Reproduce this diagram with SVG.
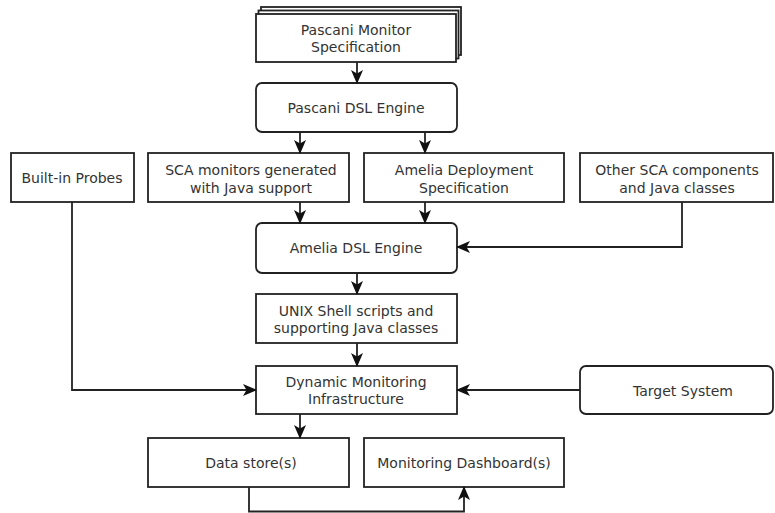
<svg xmlns="http://www.w3.org/2000/svg" width="775" height="513" viewBox="0 0 775 513">
  <style>
    .box { fill: #fff; stroke: #222; stroke-width: 1.8; }
    .lbl { font-family: "DejaVu Sans", sans-serif; font-size: 14px; fill: #333; text-anchor: middle; }
    .edge { fill: none; stroke: #222; stroke-width: 1.8; }
  </style>
  <defs>
    <marker id="arrow" viewBox="0 0 14 12" refX="13" refY="6" markerWidth="14" markerHeight="12" markerUnits="userSpaceOnUse" orient="auto">
      <path d="M0,0 L14,6 L0,12 L3.5,6 Z" fill="#111"/>
    </marker>
  </defs>

  <rect width="775" height="513" fill="#fff"/>

  <g id="pascani-spec">
    <rect class="box" x="261" y="7" width="200" height="48"/>
    <rect class="box" x="258.5" y="10.5" width="200" height="48"/>
    <rect class="box" x="256" y="14" width="200" height="48"/>
    <text class="lbl" x="356" y="35">Pascani Monitor</text>
    <text class="lbl" x="356" y="52">Specification</text>
  </g>

  <g id="pascani-engine">
    <rect class="box" x="256" y="83" width="201" height="49" rx="6"/>
    <text class="lbl" x="356" y="113">Pascani DSL Engine</text>
  </g>

  <g id="builtin-probes">
    <rect class="box" x="11" y="153" width="123" height="49"/>
    <text class="lbl" x="72" y="183">Built-in Probes</text>
  </g>

  <g id="sca-monitors">
    <rect class="box" x="148" y="153" width="201" height="49"/>
    <text class="lbl" x="251" y="175">SCA monitors generated</text>
    <text class="lbl" x="251" y="193">with Java support</text>
  </g>

  <g id="amelia-spec">
    <rect class="box" x="364" y="153" width="200" height="49"/>
    <text class="lbl" x="464" y="175">Amelia Deployment</text>
    <text class="lbl" x="464" y="193">Specification</text>
  </g>

  <g id="other-sca">
    <rect class="box" x="580" y="153" width="193" height="49"/>
    <text class="lbl" x="677" y="175">Other SCA components</text>
    <text class="lbl" x="677" y="193">and Java classes</text>
  </g>

  <g id="amelia-engine">
    <rect class="box" x="256" y="223" width="201" height="50" rx="6"/>
    <text class="lbl" x="356" y="253">Amelia DSL Engine</text>
  </g>

  <g id="unix-scripts">
    <rect class="box" x="256" y="294" width="201" height="49"/>
    <text class="lbl" x="356" y="316">UNIX Shell scripts and</text>
    <text class="lbl" x="356" y="333">supporting Java classes</text>
  </g>

  <g id="dynamic-infra">
    <rect class="box" x="256" y="366" width="201" height="48"/>
    <text class="lbl" x="356" y="387">Dynamic Monitoring</text>
    <text class="lbl" x="356" y="404">Infrastructure</text>
  </g>

  <g id="target-system">
    <rect class="box" x="580" y="366" width="193" height="48" rx="6"/>
    <text class="lbl" x="683" y="396">Target System</text>
  </g>

  <g id="data-store">
    <rect class="box" x="148" y="438" width="201" height="49"/>
    <text class="lbl" x="251" y="468">Data store(s)</text>
  </g>

  <g id="dashboard">
    <rect class="box" x="364" y="438" width="200" height="49"/>
    <text class="lbl" x="464" y="468">Monitoring Dashboard(s)</text>
  </g>

  <g id="connectors">
    <path class="edge" d="M357,62 V83" marker-end="url(#arrow)"/>
    <path class="edge" d="M300,132 V153" marker-end="url(#arrow)"/>
    <path class="edge" d="M425,132 V153" marker-end="url(#arrow)"/>
    <path class="edge" d="M300,202 V223" marker-end="url(#arrow)"/>
    <path class="edge" d="M425,202 V223" marker-end="url(#arrow)"/>
    <path class="edge" d="M682,202 V247 H457" marker-end="url(#arrow)"/>
    <path class="edge" d="M357,273 V294" marker-end="url(#arrow)"/>
    <path class="edge" d="M357,343 V366" marker-end="url(#arrow)"/>
    <path class="edge" d="M72,202 V390 H256" marker-end="url(#arrow)"/>
    <path class="edge" d="M580,390 H457" marker-end="url(#arrow)"/>
    <path class="edge" d="M300,414 V438" marker-end="url(#arrow)"/>
    <path class="edge" d="M249,487 V511.5 H464 V487" marker-end="url(#arrow)"/>
  </g>
</svg>
